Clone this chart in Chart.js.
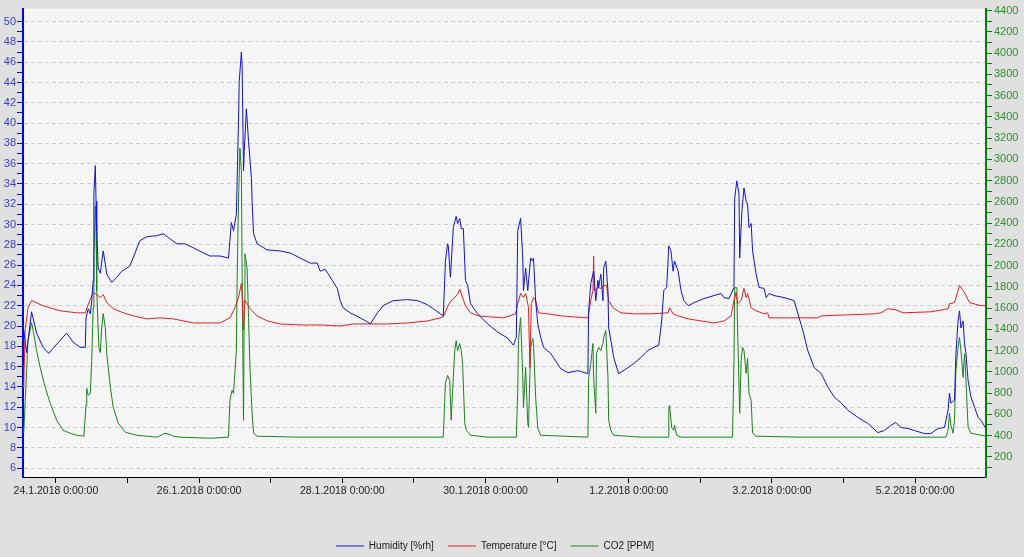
<!DOCTYPE html>
<html><head><meta charset="utf-8">
<script src="https://cdn.jsdelivr.net/npm/chart.js@4"></script>
<style>html,body{margin:0;padding:0;background:#e0e0e0;}canvas{display:block}</style>
</head><body>
<canvas id="c" width="1024" height="557"></canvas>
<script>
// time in days from 24.1.2018 0:00:00
const xTickDays = [0,1,2,3,4,5,6,7,8,9,10,11,12];
const xTickLabels = ["24.1.2018 0:00:00","26.1.2018 0:00:00","28.1.2018 0:00:00","30.1.2018 0:00:00","1.2.2018 0:00:00","3.2.2018 0:00:00","5.2.2018 0:00:00"];
const leftMajorTicks = [6,8,10,12,14,16,18,20,22,24,26,28,30,32,34,36,38,40,42,44,46,48,50];
const rightMajorTicks = [200,400,600,800,1000,1200,1400,1600,1800,2000,2200,2400,2600,2800,3000,3200,3400,3600,3800,4000,4200,4400];

const humDays = [-0.45,-0.41,-0.34,-0.27,-0.18,-0.10,-0.04,0.06,0.15,0.24,
0.34,0.41,0.42,0.45,0.48,0.50,0.52,0.53,0.55,0.56,
0.57,0.59,0.62,0.66,0.69,0.71,0.78,0.85,0.92,1.03,
1.10,1.17,1.27,1.41,1.50,1.59,1.69,1.80,1.92,2.06,
2.15,2.29,2.41,2.45,2.48,2.52,2.55,2.56,2.59,2.60,
2.62,2.63,2.66,2.69,2.73,2.74,2.76,2.81,2.95,3.13,
3.27,3.41,3.55,3.65,3.69,3.76,3.86,3.93,3.97,4.01,
4.11,4.25,4.35,4.39,4.49,4.57,4.71,4.91,5.05,5.19,
5.27,5.37,5.41,5.44,5.47,5.48,5.51,5.55,5.59,5.61,
5.64,5.66,5.69,5.72,5.75,5.79,5.89,6.03,6.17,6.31,
6.39,6.43,6.45,6.49,6.52,6.53,6.56,6.59,6.63,6.66,
6.67,6.70,6.73,6.77,6.81,6.91,7.05,7.15,7.29,7.43,
7.44,7.47,7.51,7.54,7.57,7.58,7.61,7.64,7.65,7.68,
7.71,7.72,7.75,7.79,7.86,7.99,8.07,8.17,8.27,8.35,
8.42,8.46,8.49,8.53,8.56,8.59,8.62,8.64,8.69,8.73,
8.77,8.83,8.91,9.05,9.19,9.29,9.33,9.40,9.47,9.48,
9.51,9.54,9.55,9.58,9.61,9.64,9.66,9.68,9.71,9.73,
9.78,9.82,9.89,9.92,9.96,10.03,10.17,10.31,10.38,10.43,
10.50,10.59,10.69,10.78,10.87,10.97,11.06,11.20,11.34,11.48,
11.57,11.66,11.73,11.80,11.90,11.99,12.13,12.22,12.32,12.41,
12.46,12.48,12.50,12.55,12.57,12.60,12.62,12.64,12.67,12.69,
12.71,12.74,12.78,12.83,12.88,12.92,12.99];
const humVals = [19.6,17.4,21.4,19.3,17.9,17.3,17.8,18.6,19.3,18.4,
17.9,17.9,20.8,21.7,21.2,22.5,24.5,33.0,35.8,32.3,
29.4,25.7,25.2,27.4,26.1,25.1,24.3,24.8,25.4,25.9,
27.1,28.4,28.8,28.9,29.1,28.6,28.1,28.1,27.7,27.2,
26.9,26.9,26.7,30.2,29.4,31.0,40.2,44.1,47.0,45.8,
35.3,37.2,41.4,38.2,34.6,32.3,29.1,28.1,27.5,27.4,
27.2,26.7,26.2,26.2,25.4,25.6,24.5,23.7,22.5,21.8,
21.3,20.8,20.4,20.2,21.3,22.0,22.5,22.6,22.5,22.1,
21.7,21.2,21.0,26.4,28.1,27.9,24.8,29.7,30.8,30.1,
30.6,29.6,29.6,24.5,24.0,22.2,21.2,20.2,19.4,18.8,
18.1,18.9,29.4,30.6,26.7,23.5,25.7,23.5,26.7,26.4,
26.7,22.5,20.2,18.9,17.9,17.3,15.8,15.4,15.6,15.3,
21.5,24.2,25.4,22.5,24.5,23.8,25.1,22.5,25.7,26.4,
23.5,19.8,18.6,16.9,15.3,15.9,16.3,16.9,17.6,17.9,
18.1,20.5,23.5,23.8,27.9,27.4,25.4,26.4,25.4,23.5,
22.5,22.0,22.3,22.7,23.0,23.2,22.8,22.7,23.8,32.6,
34.3,33.0,26.7,31.3,33.6,32.3,32.0,29.7,30.1,27.4,
25.1,23.8,23.7,22.8,23.2,23.0,22.8,22.5,20.8,19.6,
17.6,15.9,15.3,14.0,13.0,12.4,11.7,11.0,10.4,9.5,
9.7,10.2,10.5,10.0,9.9,9.7,9.4,9.4,9.9,10.0,
11.7,13.4,12.4,12.7,17.3,20.5,21.5,19.8,20.5,18.3,
17.3,14.6,13.0,12.0,11.0,10.7,9.9];

const tempDays = [-0.45,-0.43,-0.39,-0.34,-0.18,0.06,0.29,0.41,0.45,0.52,0.57,0.62,0.66,0.71,0.80,0.94,1.08,1.27,1.45,1.64,1.78,1.92,2.15,2.29,2.43,2.50,2.55,2.59,2.60,2.62,2.64,2.67,2.71,2.81,2.95,3.13,3.45,3.69,3.97,4.15,4.39,4.63,4.91,5.19,5.37,5.41,5.47,5.51,5.55,5.61,5.64,5.68,5.72,5.79,5.90,6.07,6.25,6.42,6.45,6.49,6.53,6.56,6.59,6.60,6.62,6.64,6.67,6.70,6.74,6.87,7.05,7.23,7.43,7.47,7.50,7.51,7.52,7.57,7.61,7.65,7.69,7.72,7.78,7.89,8.07,8.31,8.55,8.57,8.62,8.69,8.83,9.01,9.19,9.33,9.43,9.47,9.50,9.52,9.57,9.61,9.64,9.66,9.71,9.78,9.89,9.94,9.96,10.22,10.64,10.69,11.06,11.43,11.52,11.62,11.73,11.83,12.22,12.46,12.48,12.55,12.62,12.67,12.71,12.76,12.92,12.99];
const tempVals = [13.9,19.6,21.8,22.5,22.0,21.5,21.3,21.3,22.1,23.3,23.1,22.8,23.1,22.3,21.7,21.3,21.0,20.7,20.8,20.7,20.5,20.3,20.3,20.3,20.8,21.8,22.8,24.2,23.2,19.6,22.5,22.2,21.7,21.0,20.5,20.2,20.1,20.1,20.0,20.2,20.2,20.2,20.3,20.5,20.8,20.9,21.9,22.4,22.7,23.1,23.6,22.8,22.0,21.3,21.0,20.9,20.8,21.2,22.2,23.2,22.8,23.2,22.2,21.8,15.9,22.2,22.8,22.5,21.3,21.2,21.0,20.9,20.8,22.5,23.5,26.9,23.5,23.8,23.7,24.0,24.0,22.5,21.8,21.3,21.2,21.2,21.3,21.8,21.2,21.0,20.7,20.5,20.3,20.5,21.0,22.5,23.3,22.2,22.5,23.7,22.8,23.2,21.8,21.5,21.2,21.3,20.8,20.8,20.8,21.0,21.1,21.2,21.3,21.7,21.6,21.3,21.4,21.7,22.2,22.3,24.0,23.5,23.0,22.3,22.0,22.0];

const co2Days = [-0.45,-0.39,-0.34,-0.31,-0.27,-0.22,-0.15,-0.08,0.01,0.10,0.20,0.29,0.39,0.42,0.43,0.45,0.48,0.50,0.52,0.53,0.55,0.56,0.57,0.60,0.62,0.64,0.66,0.69,0.71,0.76,0.80,0.87,0.97,1.13,1.41,1.47,1.52,1.58,1.64,1.73,2.15,2.41,2.43,2.46,2.48,2.52,2.53,2.55,2.57,2.59,2.60,2.62,2.63,2.64,2.67,2.69,2.71,2.74,2.76,2.81,3.41,4.11,4.81,5.41,5.44,5.47,5.50,5.52,5.55,5.57,5.59,5.61,5.64,5.66,5.68,5.71,5.73,5.79,6.03,6.43,6.45,6.46,6.49,6.52,6.53,6.56,6.59,6.60,6.63,6.66,6.67,6.70,6.73,6.77,7.43,7.44,7.47,7.50,7.51,7.54,7.55,7.58,7.61,7.64,7.65,7.68,7.71,7.72,7.75,7.79,8.17,8.55,8.56,8.57,8.60,8.63,8.64,8.67,8.73,9.45,9.47,9.48,9.51,9.52,9.55,9.57,9.59,9.61,9.64,9.66,9.68,9.71,9.73,9.78,10.41,11.10,11.80,12.43,12.46,12.48,12.50,12.53,12.55,12.57,12.60,12.62,12.64,12.67,12.69,12.71,12.74,12.78,12.92,12.99];
const co2Vals = [422,1294,1463,1360,1201,1041,854,704,544,450,422,403,394,685,844,779,797,1107,1604,2073,2561,2326,1763,1229,1182,1416,1548,1416,1172,854,666,516,431,403,385,403,422,413,394,385,375,385,732,825,797,1201,1829,2608,3105,2889,1979,544,1670,2111,1979,1510,1041,610,422,394,385,385,385,385,900,966,919,544,947,1201,1294,1201,1266,1201,1079,516,450,403,385,385,825,1294,1510,947,666,1041,516,478,1229,1313,1266,760,469,403,385,947,1079,1266,947,610,1172,1229,1201,1266,1323,1388,947,544,450,403,385,385,666,685,478,450,497,403,385,385,1107,1792,1792,1416,610,1107,1229,1201,985,1126,797,732,422,394,385,385,385,385,450,610,497,422,544,1013,1229,1323,1201,947,1172,919,478,422,403,394];

const pts = (xs, ys) => xs.map((x, i) => ({x: x, y: ys[i]}));
const FAM = "'Liberation Sans', Arial, sans-serif";
const FONT = {family: FAM, size: 11};
const XFONT = {family: FAM, size: 10.5};
const LFONT = {family: FAM, size: 10};

const bgPlugin = {
  id: 'bg',
  beforeDraw(chart) {
    const {ctx, chartArea: a} = chart;
    ctx.save();
    ctx.fillStyle = '#e0e0e0';
    ctx.fillRect(0, 0, chart.width, chart.height);
    ctx.fillStyle = '#f5f5f5';
    ctx.fillRect(a.left, a.top, a.right - a.left, a.bottom - a.top);
    ctx.restore();
  },
  afterLayout(chart) {
    if (chart.legend) chart.legend.right -= 34;
  }
};

const allLeft = []; for (let v = 6; v <= 50; v++) allLeft.push(v);
const allRight = []; for (let v = 100; v <= 4400; v += 100) allRight.push(v);

new Chart(document.getElementById('c'), {
  type: 'line',
  data: {
    datasets: [
      {label: 'Humidity [%rh]', data: pts(humDays, humVals), borderColor: '#1414cc', backgroundColor: '#1414cc', borderWidth: 1, pointRadius: 0, yAxisID: 'y'},
      {label: 'Temperature [°C]', data: pts(tempDays, tempVals), borderColor: '#e02222', backgroundColor: '#e02222', borderWidth: 1, pointRadius: 0, yAxisID: 'y'},
      {label: 'CO2 [PPM]', data: pts(co2Days, co2Vals), borderColor: '#1f801f', backgroundColor: '#1f801f', borderWidth: 1, pointRadius: 0, yAxisID: 'y2'}
    ]
  },
  options: {
    responsive: false,
    animation: false,
    devicePixelRatio: 1,
    layout: {padding: {top: 7, left: 0, right: 0, bottom: -4}},
    plugins: {
      tooltip: {enabled: false},
      legend: {
        position: 'bottom',
        labels: {usePointStyle: true, pointStyle: 'line', pointStyleWidth: 28, color: '#1a1a1a', font: LFONT, padding: 14}
      }
    },
    scales: {
      x: {
        type: 'linear', min: -0.46, max: 12.99,
        afterBuildTicks(a) { a.ticks = xTickDays.map(v => ({value: v})); },
        ticks: {autoSkip: false, maxRotation: 0, color: '#222', font: XFONT, padding: 2,
          callback: (v) => (v % 2 === 0 ? xTickLabels[v / 2] : '')},
        grid: {drawOnChartArea: false, drawTicks: true, tickLength: 6, tickColor: '#000'},
        border: {color: '#000', width: 1},
        afterFit(s) { const lh = (s.chart.legend && s.chart.legend.height) ? s.chart.legend.height : 33; s.height = 557 + 4 - lh - 477; }
      },
      y: {
        type: 'linear', position: 'left', min: 5.12, max: 51.28,
        afterBuildTicks(a) { a.ticks = allLeft.map(v => ({value: v})); },
        ticks: {autoSkip: false, color: '#3c3cc8', font: FONT, padding: 1,
          callback: (v) => (leftMajorTicks.includes(v) ? String(v) : '')},
        grid: {drawOnChartArea: true, drawTicks: true, tickLength: 6, tickColor: '#0000ff', tickBorderDash: [],
          color: (c) => (c.tick && leftMajorTicks.includes(c.tick.value) ? '#cfcfcf' : 'rgba(0,0,0,0)')},
        border: {color: '#0000ff', width: 2, dash: [4, 3]},
        afterFit(s) { s.width = 23; }
      },
      y2: {
        type: 'linear', position: 'right', min: 10, max: 4419,
        afterBuildTicks(a) { a.ticks = allRight.map(v => ({value: v})); },
        ticks: {autoSkip: false, color: '#2f8f2f', font: FONT, padding: 2,
          callback: (v) => (rightMajorTicks.includes(v) ? String(v) : '')},
        grid: {drawOnChartArea: false, drawTicks: true, tickLength: 6, tickColor: '#008000'},
        border: {color: '#008000', width: 2},
        afterFit(s) { s.width = 38; }
      }
    }
  },
  plugins: [bgPlugin]
});
</script>
</body></html>
